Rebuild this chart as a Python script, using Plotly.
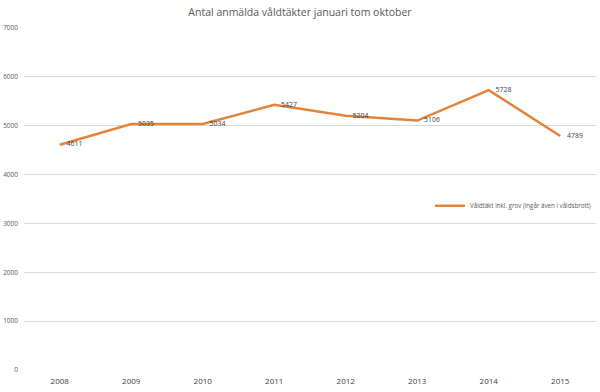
import plotly.graph_objects as go

years = ["2008", "2009", "2010", "2011", "2012", "2013", "2014", "2015"]
values = [4611, 5035, 5034, 5427, 5204, 5106, 5728, 4789]
series_name = "Våldtäkt inkl. grov (ingår även i våldsbrott)"
title = "Antal anmälda våldtäkter januari tom oktober"
y_ticks = [0, 1000, 2000, 3000, 4000, 5000, 6000, 7000]

fig = go.Figure()
fig.add_trace(go.Scatter(
    x=years, y=values, mode="lines+markers+text", name=series_name,
    line=dict(color="#E3823B", width=2.5),
    marker=dict(size=9, color="rgba(0,0,0,0)"),
    text=[str(v) for v in values], textposition="middle right",
    textfont=dict(size=7, color="#404040", family="Open Sans"),
    showlegend=True, cliponaxis=False,
))
fig.update_layout(
    width=600, height=392,
    margin=dict(l=24, r=4, t=28, b=22, autoexpand=False),
    paper_bgcolor="white", plot_bgcolor="white",
    title=dict(text=title, x=0.5, xanchor="center", y=0.978, yanchor="top",
               pad=dict(t=0, b=0),
               font=dict(size=10.5, color="#595959", family="Open Sans")),
    font=dict(family="Open Sans", color="#595959"),
    legend=dict(x=1.0, xanchor="right", y=0.48, yanchor="middle",
                font=dict(size=6.2, color="#595959"), bgcolor="rgba(0,0,0,0)",
                itemwidth=30),
    xaxis=dict(type="category", range=[-0.5, 7.5], showgrid=False, showline=False,
               zeroline=False, automargin=False, ticklabelstandoff=5,
               tickfont=dict(size=8, color="#404040"), ticks="", ticklen=0),
    yaxis=dict(range=[0, 7000], tickvals=y_ticks, showgrid=True, gridcolor="#d9d9d9",
               gridwidth=1, zeroline=False, showline=False, automargin=False,
               tickfont=dict(size=6.5, color="#595959"), ticks="", ticklabelstandoff=5),
)
fig.write_html("out.html", config={"displayModeBar": False},
               post_script="document.body.style.margin='0px';")
